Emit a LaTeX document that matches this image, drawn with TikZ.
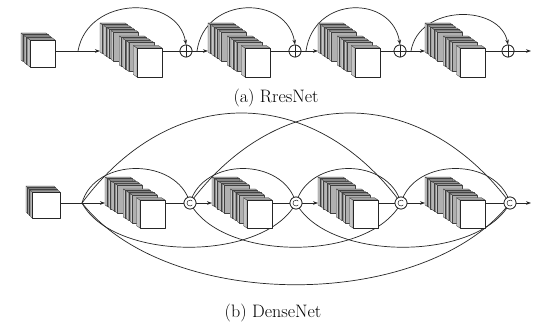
\documentclass[tikz,border=0pt]{standalone}
\usetikzlibrary{arrows.meta}
\begin{document}
\begin{tikzpicture}[x=1pt,y=-1pt,
  conn/.style={line width=0.7pt,draw=black!85},
  arr/.style={conn,-{Stealth[length=5pt,width=3.6pt]}},
  opnode/.style={circle,draw=black!85,line width=0.7pt,fill=white,minimum size=12pt,inner sep=0pt},
  blkline/.style={draw=black!75,line width=0.3pt,line join=round},
  leftface/.style={blkline,fill=gray!45},
  topface/.style={blkline,fill=gray!72},
  backfront/.style={blkline,fill=gray!62},
  caption/.style={font=\fontsize{18}{20}\selectfont,inner sep=0pt},
]
\useasboundingbox (0,0) rectangle (546,326);
\fill[white] (0,0) rectangle (546,326);

% #1 x, #2 y (front face top-left), #3 w, #4 h, #5 dx, #6 dy, #7 back slab thickness, #8 back t-list, #9 front thickness
\newcommand\slabblock[9]{%
  \begin{scope}[shift={(#1,#2)}]
  \foreach \t in {#8}{
    \pgfmathsetmacro\ax{-\t*#5}
    \pgfmathsetmacro\ay{-\t*#6}
    \pgfmathsetmacro\bx{\ax-#7*#5}
    \pgfmathsetmacro\by{\ay-#7*#6}
    \filldraw[leftface] (\ax,\ay) -- (\ax,\ay+#4) -- (\bx,\by+#4) -- (\bx,\by) -- cycle;
    \filldraw[topface] (\ax,\ay) -- (\ax+#3,\ay) -- (\bx+#3,\by) -- (\bx,\by) -- cycle;
    \filldraw[backfront] (\ax,\ay) rectangle (\ax+#3,\ay+#4);
  }
  \pgfmathsetmacro\bx{-#9*#5}
  \pgfmathsetmacro\by{-#9*#6}
  \filldraw[leftface] (0,0) -- (0,#4) -- (\bx,\by+#4) -- (\bx,\by) -- cycle;
  \filldraw[topface] (0,0) -- (#3,0) -- (\bx+#3,\by) -- (\bx,\by) -- cycle;
  \filldraw[blkline,draw=black!85,line width=0.45pt,fill=white] (0,0) rectangle (#3,#4);
  \end{scope}}

% ================= (a) ResNet =================
\coordinate (acubeout) at (55,51);
\coordinate (as1) at (78,51);
\coordinate (ab1in) at (100,51); \coordinate (ab1out) at (162,51);
\coordinate (ab2in) at (208,51); \coordinate (ab2out) at (270,51);
\coordinate (ab3in) at (318,51); \coordinate (ab3out) at (380,51);
\coordinate (ab4in) at (425,51); \coordinate (ab4out) at (485,51);
\coordinate (aend) at (531,51);
\node[opnode] (a1) at (186,51) {};
\node[opnode] (a2) at (295,51) {};
\node[opnode] (a3) at (400,51) {};
\node[opnode] (a4) at (508,51) {};
\coordinate (as2) at (197,51);
\coordinate (as3) at (306,51);
\coordinate (as4) at (411,51);

\draw[arr] (as1) .. controls (88,-5) and (178,-5) .. (a1.north);
\draw[arr] (as2) .. controls (205,-5) and (287,-5) .. (a2.north);
\draw[arr] (as3) .. controls (314,-5) and (392,-5) .. (a3.north);
\draw[arr] (as4) .. controls (419,4) and (500,4) .. (a4.north);

\draw[arr] (acubeout) -- (ab1in);
\draw[conn] (ab1out) -- (a1);
\draw[arr] (a1) -- (ab2in);
\draw[conn] (ab2out) -- (a2);
\draw[arr] (a2) -- (ab3in);
\draw[conn] (ab3out) -- (a3);
\draw[arr] (a3) -- (ab4in);
\draw[conn] (ab4out) -- (a4);
\draw[arr] (a4) -- (aend);

\slabblock{30}{40}{25}{27}{9}{7}{0.2}{0.8,0.45}{0.3}
\slabblock{137}{48}{25}{29}{37}{25}{0.06}{0.94,0.84,0.74,0.64,0.42,0.32,0.22}{0.1}
\slabblock{245}{48}{25}{29}{37}{25}{0.06}{0.94,0.84,0.74,0.64,0.42,0.32,0.22}{0.1}
\slabblock{355}{48}{25}{29}{37}{25}{0.06}{0.94,0.84,0.74,0.64,0.42,0.32,0.22}{0.1}
\slabblock{460}{48}{25}{29}{35}{25}{0.06}{0.94,0.84,0.74,0.64,0.42,0.32,0.22}{0.1}

\foreach \n in {a1,a2,a3,a4}{
  \node[opnode] at (\n) {};
  \draw[conn,line width=0.5pt] (\n.north) -- (\n.south) (\n.west) -- (\n.east);
}

\node[caption] (capa) at (276,98) {(a) RresNet};

% ================= (b) DenseNet =================
\coordinate (bcubeout) at (60,203);
\coordinate (b0) at (82,203);
\coordinate (bb1in) at (105,203); \coordinate (bb1out) at (165,203);
\coordinate (bb2in) at (212,203); \coordinate (bb2out) at (272,203);
\coordinate (bb3in) at (318,203); \coordinate (bb3out) at (378,203);
\coordinate (bb4in) at (425,203); \coordinate (bb4out) at (485,203);
\coordinate (bend) at (531,203);
\node[opnode] (c1) at (190,203) {};
\node[opnode] (c2) at (296,203) {};
\node[opnode] (c3) at (401,203) {};
\node[opnode] (c4) at (510,203) {};

% small top arcs
\draw[conn] (b0) .. controls (95,157) and (177,157) .. (c1.center);
\draw[conn] (c1.center) .. controls (203,157) and (283,157) .. (c2.center);
\draw[conn] (c2.center) .. controls (309,157) and (388,157) .. (c3.center);
\draw[conn] (c3.center) .. controls (414,157) and (497,157) .. (c4.center);
% medium bottom arcs
\draw[conn] (b0) .. controls (114,262) and (264,262) .. (c2.center);
\draw[conn] (c1.center) .. controls (222,262) and (369,262) .. (c3.center);
\draw[conn] (c2.center) .. controls (328,262) and (478,262) .. (c4.center);
% large top arcs
\draw[conn] (b0) .. controls (171,83) and (312,83) .. (c3.center);
\draw[conn] (c1.center) .. controls (280,83) and (420,83) .. (c4.center);
% largest bottom arc
\draw[conn] (b0) .. controls (168,312) and (424,312) .. (c4.center);

\draw[conn] (bcubeout) -- (b0);
\draw[arr] (b0) -- (bb1in);
\draw[conn] (bb1out) -- (c1);
\draw[arr] (c1) -- (bb2in);
\draw[conn] (bb2out) -- (c2);
\draw[arr] (c2) -- (bb3in);
\draw[conn] (bb3out) -- (c3);
\draw[arr] (c3) -- (bb4in);
\draw[conn] (bb4out) -- (c4);
\draw[arr] (c4) -- (bend);

\slabblock{32}{192}{28}{26}{6}{6}{0.25}{0.75,0.4}{0.3}
\slabblock{140}{200}{25}{28}{35}{23}{0.06}{0.94,0.84,0.74,0.64,0.42,0.32,0.22}{0.1}
\slabblock{247}{200}{25}{28}{35}{23}{0.06}{0.94,0.84,0.74,0.64,0.42,0.32,0.22}{0.1}
\slabblock{353}{200}{25}{28}{35}{23}{0.06}{0.94,0.84,0.74,0.64,0.42,0.32,0.22}{0.1}
\slabblock{460}{200}{25}{28}{35}{23}{0.06}{0.94,0.84,0.74,0.64,0.42,0.32,0.22}{0.1}

\foreach \n in {c1,c2,c3,c4}{
  \node[opnode] at (\n) {};
  \draw[conn,line width=0.5pt] ([shift={(2.3,1.93)}]\n.center) arc[start angle=40,end angle=320,radius=3];
}

\node[caption] (capb) at (273,313) {(b) DenseNet};
\end{tikzpicture}
\end{document}
